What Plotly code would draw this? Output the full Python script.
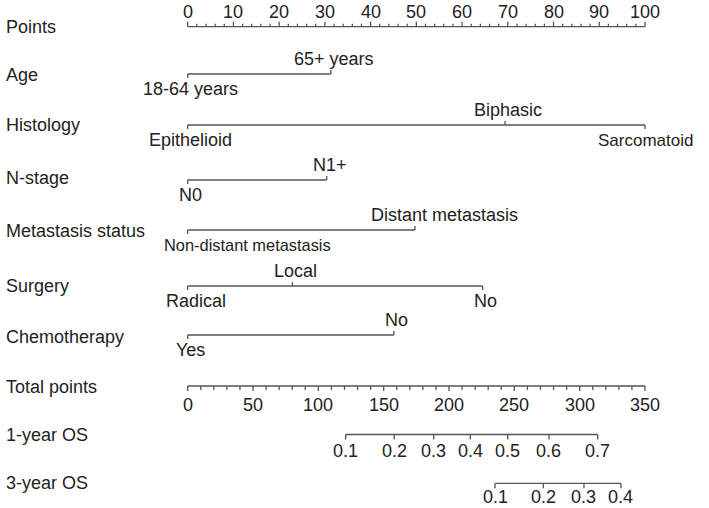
import plotly.graph_objects as go

# ---------------- data ----------------
points_ticks = list(range(0, 101, 10))
points_minor = list(range(0, 101, 2))
total_ticks = list(range(0, 351, 50))
total_minor = list(range(0, 351, 10))
max_points = 100
max_total = 350

variables = ["Age", "Histology", "N-stage", "Metastasis status", "Surgery", "Chemotherapy"]
age_levels = ["18-64 years", "65+ years"]
age_points = [0, 31.3]
histology_levels = ["Epithelioid", "Biphasic", "Sarcomatoid"]
histology_points = [0, 69.4, 100]
nstage_levels = ["N0", "N1+"]
nstage_points = [0, 30.4]
meta_levels = ["Non-distant metastasis", "Distant metastasis"]
meta_points = [0, 49.7]
surgery_levels = ["Radical", "Local", "No"]
surgery_points = [0, 22.9, 64.5]
chemo_levels = ["Yes", "No"]
chemo_points = [0, 45.1]

os1_labels = ["0.1", "0.2", "0.3", "0.4", "0.5", "0.6", "0.7"]
os1_total = [120.9, 158.1, 188.3, 216.3, 244.9, 276.5, 313.8]
os3_labels = ["0.1", "0.2", "0.3", "0.4"]
os3_total = [235.2, 272.2, 303.3, 331.6]

# ---------------- style / layout ----------------
W, H = 709, 508
X0_PX, X100_PX = 187.7, 645.0
px_per_pt = (X100_PX - X0_PX) / max_points
x_lo = -X0_PX / px_per_pt
x_hi = x_lo + W / px_per_pt

LINE = "#555555"
TEXT = "#222222"
FONT = "Liberation Sans, Arial, sans-serif"
FS = 18

row_y = {
    "Points": 26.7, "Age": 74, "Histology": 125, "N-stage": 180,
    "Metastasis status": 230, "Surgery": 286, "Chemotherapy": 335,
    "Total points": 386, "1-year OS": 434.5, "3-year OS": 483.3,
}
label_y = {
    "Points": 27, "Age": 75, "Histology": 125, "N-stage": 178,
    "Metastasis status": 231, "Surgery": 286, "Chemotherapy": 337,
    "Total points": 387, "1-year OS": 435, "3-year OS": 483,
}
# pixel shift of level labels (style)
level_shift = {"Non-distant metastasis": 60, "Distant metastasis": 30, "Radical": 8,
               "Sarcomatoid": 0}
level_size = {"Non-distant metastasis": 16.4, "Sarcomatoid": 17}

def px(d):
    return d / px_per_pt

fig = go.Figure()
annotations = []

def add_lines(xs, ys):
    fig.add_trace(go.Scatter(x=xs, y=ys, mode="lines",
                             line=dict(color=LINE, width=1.3),
                             hoverinfo="skip", showlegend=False))

def txt(x, y, s, size=FS, xref="x", xanchor="center", yanchor="middle"):
    annotations.append(dict(x=x, y=y, xref=xref, yref="y", text=s, showarrow=False,
                            xanchor=xanchor, yanchor=yanchor, borderpad=0,
                            font=dict(family=FONT, size=size, color=TEXT)))

# left labels
for name, yv in label_y.items():
    txt(5 / W, yv, name, xref="paper", xanchor="left")

# Points axis (ticks up, labels above)
y = row_y["Points"]
add_lines([0, max_points], [y, y])
tx, ty = [], []
for v in points_minor:
    L = 5 if v in points_ticks else 3
    tx += [v, v, None]; ty += [y, y - L, None]
add_lines(tx, ty)
for v in points_ticks:
    txt(v, 11.5, str(v))

# categorical variables
cat = [
    ("Age", age_levels, age_points),
    ("Histology", histology_levels, histology_points),
    ("N-stage", nstage_levels, nstage_points),
    ("Metastasis status", meta_levels, meta_points),
    ("Surgery", surgery_levels, surgery_points),
    ("Chemotherapy", chemo_levels, chemo_points),
]
for name, levels, pts in cat:
    y = row_y[name]
    add_lines([min(pts), max(pts)], [y, y])
    tx, ty = [], []
    for i, (lev, p) in enumerate(zip(levels, pts)):
        below = (i % 2 == 0)
        tx += [p, p, None]; ty += [y, y + (4 if below else -4), None]
        dx = level_shift.get(lev, 3)
        txt(p + px(dx), y + (15 if below else -15), lev, size=level_size.get(lev, FS))
    add_lines(tx, ty)

# Total points axis (ticks down, labels below)
scale_t = max_points / max_total
y = row_y["Total points"]
add_lines([0, max_total * scale_t], [y, y])
tx, ty = [], []
for v in total_minor:
    L = 5 if v in total_ticks else 4
    tx += [v * scale_t, v * scale_t, None]; ty += [y, y + L, None]
add_lines(tx, ty)
for v in total_ticks:
    txt(v * scale_t, y + 19, str(v))

# OS axes
for name, labs, tots in [("1-year OS", os1_labels, os1_total), ("3-year OS", os3_labels, os3_total)]:
    y = row_y[name]
    xs = [t * scale_t for t in tots]
    add_lines([min(xs), max(xs)], [y, y])
    tx, ty = [], []
    for xv in xs:
        tx += [xv, xv, None]; ty += [y, y + 5, None]
    add_lines(tx, ty)
    for xv, lab in zip(xs, labs):
        if name == "3-year OS":
            txt(xv, H, lab, yanchor="bottom")
        else:
            txt(xv, y + 16.5, lab)

fig.update_layout(
    width=W, height=H, margin=dict(l=0, r=0, t=0, b=0),
    paper_bgcolor="white", plot_bgcolor="white",
    xaxis=dict(range=[x_lo, x_hi], visible=False, fixedrange=True),
    yaxis=dict(range=[H, 0], visible=False, fixedrange=True),
    annotations=annotations, showlegend=False,
)
fig.write_html("out.html")
